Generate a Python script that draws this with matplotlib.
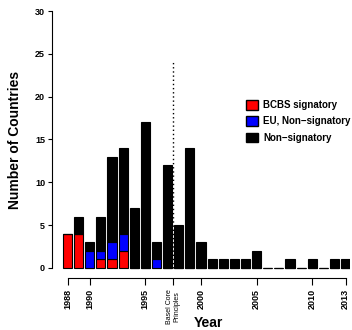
import numpy as np
import matplotlib
matplotlib.use('Agg')
import matplotlib.pyplot as plt
from matplotlib.patches import Patch

plt.rcParams['font.family'] = ['Liberation Sans', 'DejaVu Sans']

# countries adopting per year, split by group
years = list(range(1988, 2014))
bcbs = [4, 4, 0, 1, 1, 2, 0, 0, 0, 0, 0, 0, 0,
        0, 0, 0, 0, 0, 0, 0, 0, 0, 0, 0, 0, 0]
eu_non = [0, 0, 2, 1, 2, 2, 0, 0, 1, 0, 0, 0, 0,
          0, 0, 0, 0, 0, 0, 0, 0, 0, 0, 0, 0, 0]
total = [4, 6, 3, 6, 13, 14, 7, 17, 3, 12, 5, 14, 3,
         1, 1, 1, 1, 2, 0, 0, 1, 0, 1, 0, 1, 1]
non_sig = [t - r - b for t, r, b in zip(total, bcbs, eu_non)]

tick_pos = [1988, 1990, 1995, 1997.5, 2000, 2005, 2010, 2013]
tick_lab = ['1988', '1990', '1995', 'Basel Core\nPrinciples', '2000', '2005', '2010', '2013']
basel = 1997.5

fig = plt.figure(figsize=(3.52, 3.30), dpi=100)
ax = fig.add_axes([52/352, 1 - 278/330, 298/352, 267/330])

w = 0.82
yrs = np.array(years)
ax.bar(yrs, bcbs, w, color='#ff0000', edgecolor='black', linewidth=0.8)
ax.bar(yrs, eu_non, w, bottom=bcbs, color='#0000ff', edgecolor='black', linewidth=0.8)
ax.bar(yrs, non_sig, w, bottom=np.array(bcbs) + np.array(eu_non),
       color='black', edgecolor='black', linewidth=0.8)

ax.plot([basel, basel], [0, 24], color='black', linestyle=(0, (1, 2)), linewidth=1.0)

ax.set_xlim(1986.6, 2013.4)
ax.set_ylim(-1.17, 30)
for s in ['top', 'right']:
    ax.spines[s].set_visible(False)
ax.spines['left'].set_bounds(0, 30)
ax.spines['bottom'].set_bounds(1988, 2013)
ax.set_yticks([0, 5, 10, 15, 20, 25, 30])
ax.set_yticklabels(['0', '5', '10', '15', '20', '25', '30'], fontsize=6.5, fontweight='bold')
ax.tick_params(axis='y', length=3, width=0.8, pad=2)
ax.set_xticks(tick_pos)
ax.set_xticklabels(tick_lab, rotation=90, fontsize=6.5, fontweight='bold')
ax.tick_params(axis='x', length=5, width=0.8, pad=3)
for lab in ax.get_xticklabels():
    if 'Basel' in lab.get_text():
        lab.set_fontsize(5)
        lab.set_fontweight('normal')
        lab.set_linespacing(1.0)

fig.text(208/352, 1 - 323/330, 'Year', fontsize=10, fontweight='bold', ha='center', va='center')
fig.text(15/352, 1 - 140/330, 'Number of Countries', fontsize=10, fontweight='bold',
         ha='center', va='center', rotation=90)

handles = [Patch(facecolor='#ff0000', edgecolor='black'),
           Patch(facecolor='#0000ff', edgecolor='black'),
           Patch(facecolor='black', edgecolor='black')]
ax.legend(handles, ['BCBS signatory', 'EU, Non\u2212signatory', 'Non\u2212signatory'],
          loc='upper left', bbox_to_anchor=(244/352, 1 - 98/330), bbox_transform=fig.transFigure,
          frameon=False, prop={'size': 7, 'weight': 'bold'},
          handlelength=1.25, handleheight=1.15, handletextpad=0.5, labelspacing=0.65,
          borderaxespad=0, borderpad=0.2)

fig.savefig('out.png', dpi=100)
